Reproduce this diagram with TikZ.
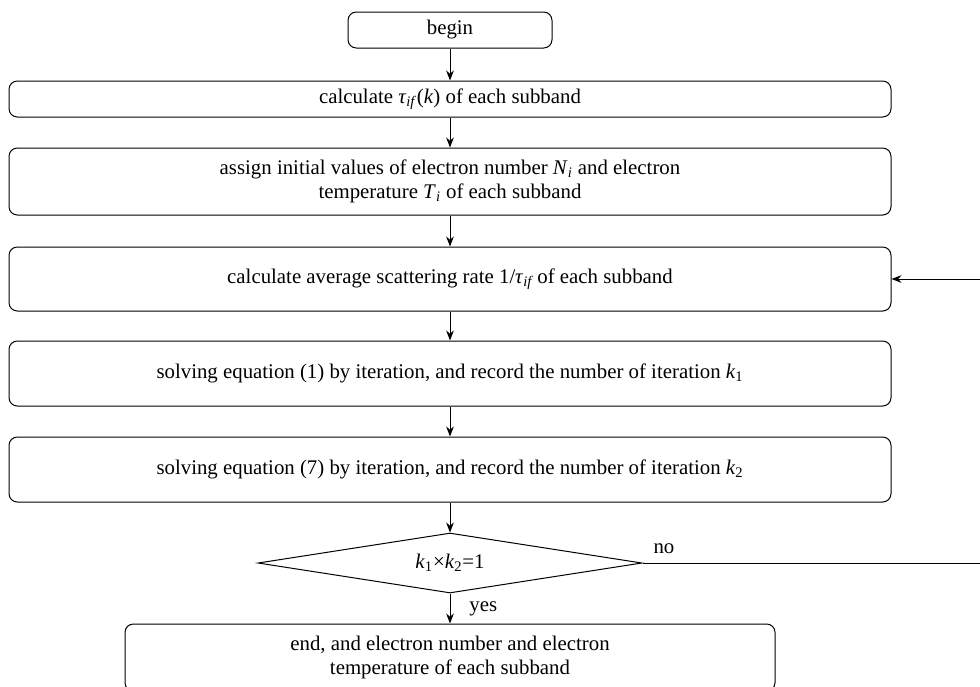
\documentclass[tikz,border=0pt]{standalone}
\usepackage{fontspec}
\setmainfont{Liberation Serif}
\usetikzlibrary{shapes.geometric,arrows.meta}

\begin{document}
\begin{tikzpicture}[
  x=0.6pt, y=-0.6pt, line width=0.6pt,
  box/.style={draw, rounded corners=5pt, minimum width=529.2pt, align=center, inner sep=0pt},
  test/.style={draw, diamond, aspect=6.4, minimum width=230.4pt, minimum height=36pt, inner sep=0pt},
  arrow/.style={-{Stealth[length=6pt,width=4.6pt]}},
  every node/.style={font=\fontsize{12.5}{14.4}\selectfont}
]
\useasboundingbox (0,0) rectangle (980,686);
\node[box, minimum width=122.4pt, minimum height=21.6pt] (begin) at (450,30) {begin};
\node[box, minimum height=21.6pt] (calc) at (450,99) {calculate \textit{τ}\textsubscript{\textit{if}}(\textit{k}) of each subband};
\node[box, minimum height=40.2pt] (assign) at (450,181.5) {assign initial values of electron number \textit{N}\textsubscript{\textit{i}} and electron\\temperature \textit{T}\textsubscript{\textit{i}} of each subband};
\node[box, minimum height=38.4pt] (rate) at (450,279) {calculate average scattering rate 1/\textit{τ}\textsubscript{\textit{if}}\,of each subband};
\node[box, minimum height=39pt] (solveA) at (450,373.5) {solving equation (1) by iteration, and record the number of iteration \textit{k}\textsubscript{1}};
\node[box, minimum height=39pt] (solveB) at (450,469.5) {solving equation (7) by iteration, and record the number of iteration \textit{k}\textsubscript{2}};
\node[test] (check) at (450,563) {\textit{k}\textsubscript{1}×\textit{k}\textsubscript{2}=1};
\node[box, minimum width=390pt, minimum height=40.2pt] (stop) at (450,657.5) {end, and electron number and electron\\temperature of each subband};
\coordinate (back) at (982,563);
% main flow
\foreach \a/\b in {begin/calc, calc/assign, assign/rate, rate/solveA, solveA/solveB, solveB/check} {
  \draw[arrow] (\a.south) -- (\b.north);
}
\draw[arrow] (check.south) -- node[right=8pt] {yes} (stop.north);
% loop back
\node[anchor=south west] (no) at ([xshift=3pt,yshift=2pt]check.east) {no};
\draw[arrow] (check.east) -- (back) |- (rate.east);
\end{tikzpicture}
\end{document}
